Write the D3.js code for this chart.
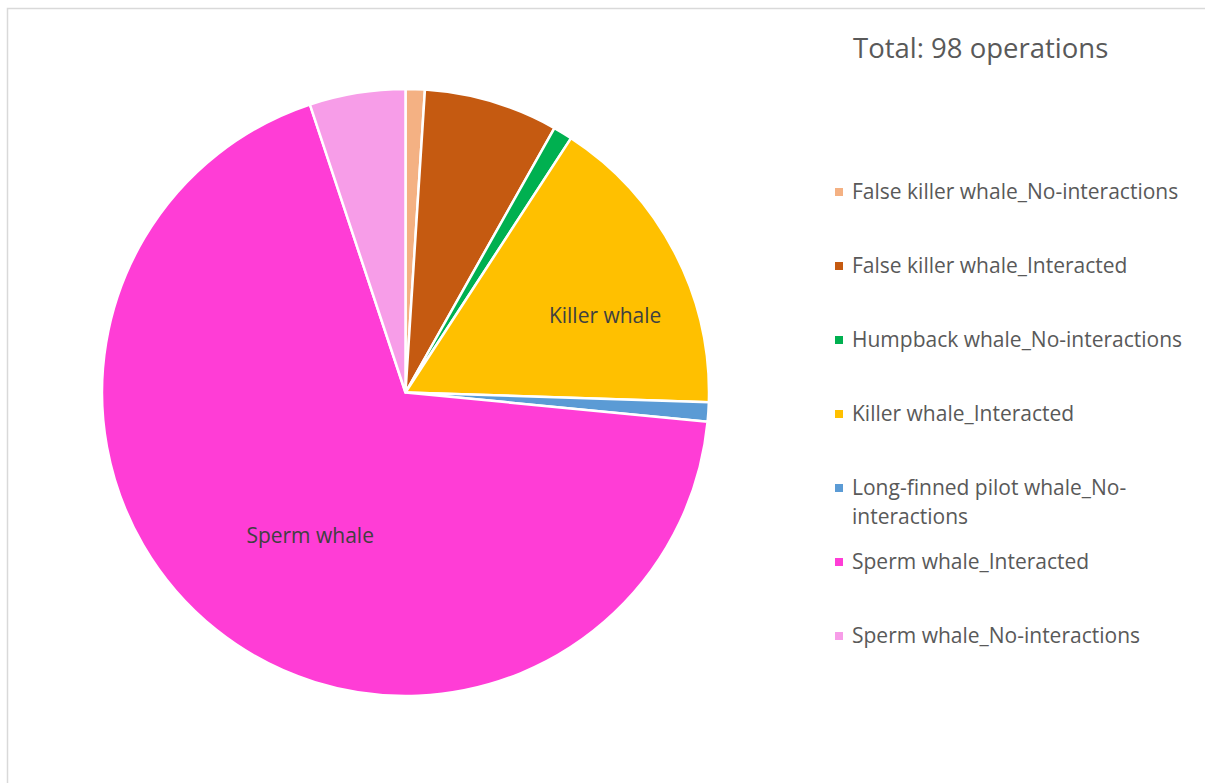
<!DOCTYPE html>
<html>
<head>
<meta charset="utf-8">
<script src="https://cdn.jsdelivr.net/npm/d3@7"></script>
<style>
  body { margin: 0; background: #fff; }
  text { font-family: "Open Sans", sans-serif; }
</style>
</head>
<body>
<svg id="chart"></svg>
<script>
const categories = [
  "False killer whale_No-interactions",
  "False killer whale_Interacted",
  "Humpback whale_No-interactions",
  "Killer whale_Interacted",
  "Long-finned pilot whale_No-interactions",
  "Sperm whale_Interacted",
  "Sperm whale_No-interactions"
];
const values = [1, 7, 1, 16, 1, 67, 5];
const colors = ["#F4B183", "#C55A11", "#00B050", "#FFC000", "#5B9BD5", "#FF3DD6", "#F79DE8"];
// labels drawn on the pie itself
const sliceLabels = ["", "", "", "Killer whale", "", "Sperm whale", ""];
const title = "Total: 98 operations";

const width = 1205;
const height = 783;
const cx = 405.5, cy = 392.5, radius = 303.5;

const svg = d3.select("#chart")
  .attr("width", width)
  .attr("height", height);

// chart area border (only top and left show in the window)
svg.append("rect")
  .attr("x", 7.5)
  .attr("y", 8.5)
  .attr("width", width + 10)
  .attr("height", height + 10)
  .attr("fill", "none")
  .attr("stroke", "#d9d9d9")
  .attr("stroke-width", 1.5);

const slices = categories.map((c, i) => ({ name: c, value: values[i], color: colors[i], label: sliceLabels[i] }));

const pie = d3.pie()
  .value(d => d.value)
  .sort(null);

const arc = d3.arc()
  .innerRadius(0)
  .outerRadius(radius);

const g = svg.append("g")
  .attr("transform", `translate(${cx},${cy})`);

const arcs = pie(slices);

g.selectAll("path")
  .data(arcs)
  .enter().append("path")
  .attr("d", arc)
  .attr("fill", d => d.data.color)
  .attr("stroke", "#fff")
  .attr("stroke-width", 2.5)
  .attr("stroke-linejoin", "round");

// best-fit style placement: fraction along slice and fraction of radius
const labelPlace = { "Killer whale": [0.61, 0.705], "Sperm whale": [0.48, 0.567] };

function labelXY(d) {
  const p = labelPlace[d.data.label];
  const a = d.startAngle + (d.endAngle - d.startAngle) * p[0];
  return [Math.sin(a) * radius * p[1], -Math.cos(a) * radius * p[1]];
}

g.selectAll(".slice-label")
  .data(arcs.filter(d => d.data.label))
  .enter().append("text")
  .attr("class", "slice-label")
  .attr("x", d => labelXY(d)[0])
  .attr("y", d => labelXY(d)[1])
  .attr("dy", "0.35em")
  .attr("text-anchor", "middle")
  .attr("fill", "#404040")
  .style("font-size", "21px")
  .text(d => d.data.label);

// title
svg.append("text")
  .attr("x", 853)
  .attr("y", 58)
  .attr("fill", "#595959")
  .style("font-size", "27.5px")
  .text(title);

// legend
const legendY = d3.scalePoint()
  .domain(categories)
  .range([192, 636]);

const legend = svg.append("g");

const items = legend.selectAll(".item")
  .data(slices)
  .enter().append("g")
  .attr("class", "item")
  .attr("transform", d => `translate(835,${legendY(d.name)})`);

items.append("rect")
  .attr("x", 0)
  .attr("y", -4)
  .attr("width", 8)
  .attr("height", 8)
  .attr("fill", d => d.color);

const maxW = 340;
items.append("text")
  .attr("x", 17)
  .attr("fill", "#595959")
  .style("font-size", "21px")
  .each(function(d) {
    const t = d3.select(this);
    // split after spaces and hyphens
    const words = d.name.match(/[^\s-]+-?\s*|\s+/g);
    let line = "";
    let lines = [];
    const probe = t.append("tspan");
    words.forEach(w => {
      probe.text(line + w);
      if (line && probe.node().getComputedTextLength() > maxW) {
        lines.push(line.trim());
        line = w;
      } else {
        line += w;
      }
    });
    lines.push(line.trim());
    probe.remove();
    lines.forEach((l, i) => {
      t.append("tspan")
        .attr("x", 17)
        .attr("y", i * 29)
        .attr("dy", "0.35em")
        .text(l);
    });
  });
</script>
</body>
</html>
